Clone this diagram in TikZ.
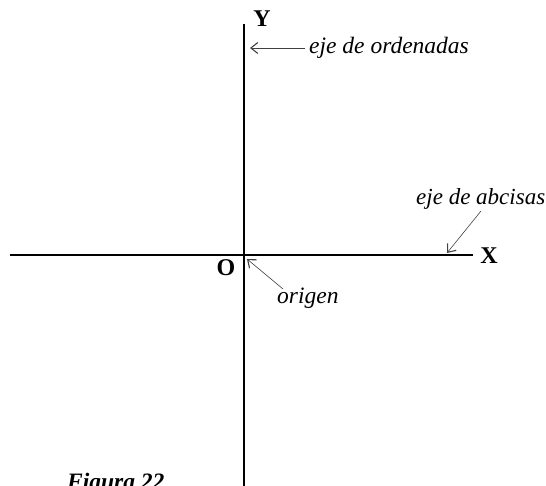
\documentclass[tikz,border=0pt]{standalone}
\usepackage{fontspec}
\setmainfont{Liberation Serif}
\usetikzlibrary{arrows.meta}
\begin{document}
\begin{tikzpicture}[x=1pt,y=-1pt,
  axis/.style={line width=2pt,black},
  pointer/.style={line width=0.6pt,black!75,-{Straight Barb[length=7pt,width=11pt,line width=1.1pt]}},
  lbl/.style={font=\fontsize{23.5}{27}\selectfont\itshape,inner sep=0pt,anchor=base west},
  axlbl/.style={font=\fontsize{24}{28}\selectfont\bfseries,inner sep=0pt}]
\useasboundingbox (0,0) rectangle (546,486);
% axes
\coordinate (xl) at (10,255.5);
\coordinate (xr) at (473,255.5);
\coordinate (yt) at (243.5,24);
\coordinate (yb) at (243.5,490);
\draw[axis] (xl) -- (xr);
\draw[axis] (yt) -- (yb);
% axis labels
\node[axlbl] (Y) at (262,19) {Y};
\node[axlbl] (X) at (489,256) {X};
\node[axlbl] (O) at (226,268) {O};
% labels
\node[lbl] (ord) at (309,54) {eje de ordenadas};
\node[lbl,font=\fontsize{23}{27}\selectfont\itshape] (abs) at (416,205) {eje de abcisas};
\node[lbl] (ori) at (277,303) {origen};
\node[font=\fontsize{23.5}{27}\selectfont\bfseries\itshape,inner sep=0pt,anchor=base west] (fig) at (67,489) {Figura 22};
% pointers
\coordinate (ords) at (305,48);
\coordinate (ordt) at (250,48);
\coordinate (abss) at (481,211);
\coordinate (abst) at (447,253);
\coordinate (oris) at (283,289);
\coordinate (orit) at (247,259);
\draw[pointer] (ords) -- (ordt);
\draw[pointer] (abss) -- (abst);
\draw[pointer] (oris) -- (orit);
\end{tikzpicture}
\end{document}
